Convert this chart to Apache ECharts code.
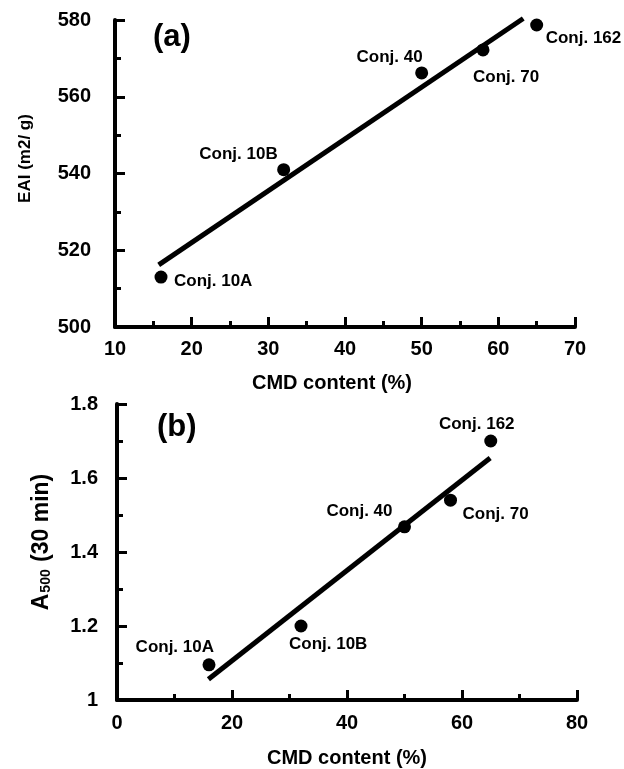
<!DOCTYPE html>
<html>
<head>
<meta charset="utf-8">
<script src="https://cdn.jsdelivr.net/npm/echarts@6/dist/echarts.min.js"></script>
<style>
  html, body { margin: 0; padding: 0; background: #fff; }
  #chart { width: 624px; height: 769px; }
</style>
</head>
<body>
<div id="chart"></div>
<script>
// points shared by both panels
var names = ['Conj. 10A', 'Conj. 10B', 'Conj. 40', 'Conj. 70', 'Conj. 162'];
var cmd = [16, 32, 50, 58, 65];

// panel (a)
var eai = [513, 541, 566.2, 572.2, 578.7];
var eaiFit = [[15.7, 516.2], [63.25, 580.4]];

// panel (b)
var a500 = [1.095, 1.2, 1.468, 1.54, 1.70];
var a500Fit = [[15.9, 1.056], [64.9, 1.654]];

var FONT = 'Liberation Sans, Arial, Helvetica, sans-serif';

// label placement around each dot (styling only)
var labA = [
    {align: 'left', offset: [13, 4]},
    {align: 'right', offset: [-6, -15]},
    {align: 'right', offset: [1, -16]},
    {align: 'left', offset: [-10, 27]},
    {align: 'left', offset: [9, 13]}
];
var labB = [
    {align: 'right', offset: [5, -18]},
    {align: 'left', offset: [-12, 18]},
    {align: 'right', offset: [-12, -16]},
    {align: 'left', offset: [12, 14]},
    {align: 'center', offset: [-14, -17]}
];

function points(ys, labs) {
    return names.map(function (n, i) {
        return {
            name: n,
            value: [cmd[i], ys[i]],
            label: {align: labs[i].align, offset: labs[i].offset}
        };
    });
}

function axisCommon() {
    return {
        type: 'value',
        axisLine: {show: true, lineStyle: {color: '#000', width: 4}},
        axisTick: {show: true, inside: true, length: 10, lineStyle: {color: '#000', width: 3}},
        minorTick: {show: true, splitNumber: 2, length: 6, lineStyle: {color: '#000', width: 3}},
        splitLine: {show: false},
        axisLabel: {color: '#000', fontSize: 20, fontWeight: 'bold', fontFamily: FONT},
        nameLocation: 'middle',
        nameTextStyle: {color: '#000', fontWeight: 'bold', fontFamily: FONT}
    };
}

var xa = axisCommon();
Object.assign(xa, {gridIndex: 0, min: 10, max: 70, interval: 10, name: 'CMD content (%)', nameGap: 46});
xa.axisLabel = Object.assign({}, xa.axisLabel, {margin: 12});
xa.nameTextStyle = Object.assign({}, xa.nameTextStyle, {fontSize: 20, padding: [0, 26, 0, 0]});

var ya = axisCommon();
Object.assign(ya, {gridIndex: 0, min: 500, max: 580, interval: 20, name: 'EAI (m2/ g)', nameGap: 81});
ya.axisLabel = Object.assign({}, ya.axisLabel, {margin: 24});
ya.nameTextStyle = Object.assign({}, ya.nameTextStyle, {fontSize: 17, padding: [0, 0, 0, 30]});

var xb = axisCommon();
Object.assign(xb, {gridIndex: 1, min: 0, max: 80, interval: 20, name: 'CMD content (%)', nameGap: 48});
xb.axisLabel = Object.assign({}, xb.axisLabel, {margin: 13});
xb.nameTextStyle = Object.assign({}, xb.nameTextStyle, {fontSize: 20});

var yb = axisCommon();
Object.assign(yb, {gridIndex: 1, min: 1, max: 1.8, interval: 0.2, name: '{a|A}{s|500}{a| (30 min)}', nameGap: 64});
yb.axisLabel = Object.assign({}, yb.axisLabel, {margin: 19});
yb.nameTextStyle = Object.assign({}, yb.nameTextStyle, {
    padding: [0, 0, 0, 20],
    rich: {
        a: {fontSize: 23, lineHeight: 24, verticalAlign: 'bottom', fontWeight: 'bold', fontFamily: FONT, color: '#000'},
        s: {fontSize: 14, lineHeight: 12, verticalAlign: 'bottom', fontWeight: 'bold', fontFamily: FONT, color: '#000', padding: [0, 1, 0, 1]}
    }
});

var pointLabel = {
    show: true, position: 'inside', verticalAlign: 'middle',
    formatter: '{b}', color: '#000', fontSize: 17, fontWeight: 'bold', fontFamily: FONT
};

var option = {
    backgroundColor: '#fff',
    animation: false,
    grid: [
        {left: 115, top: 20, width: 460, height: 307},
        {left: 117, top: 404, width: 460, height: 308}
    ],
    xAxis: [xa, xb],
    yAxis: [ya, yb],
    graphic: [
        {type: 'text', left: 153, top: 22, style: {text: '(a)', font: 'bold 31px ' + FONT, fill: '#000'}},
        {type: 'text', left: 157, top: 412, style: {text: '(b)', font: 'bold 31px ' + FONT, fill: '#000'}}
    ],
    series: [
        {
            type: 'line', xAxisIndex: 0, yAxisIndex: 0, data: eaiFit, symbol: 'none', clip: false,
            lineStyle: {color: '#000', width: 5, cap: 'butt'}
        },
        {
            type: 'scatter', xAxisIndex: 0, yAxisIndex: 0, data: points(eai, labA),
            symbolSize: 13, itemStyle: {color: '#000', opacity: 1}, label: pointLabel
        },
        {
            type: 'line', xAxisIndex: 1, yAxisIndex: 1, data: a500Fit, symbol: 'none', clip: false,
            lineStyle: {color: '#000', width: 5, cap: 'butt'}
        },
        {
            type: 'scatter', xAxisIndex: 1, yAxisIndex: 1, data: points(a500, labB),
            symbolSize: 13, itemStyle: {color: '#000', opacity: 1}, label: pointLabel
        }
    ]
};

var myChart = echarts.init(document.getElementById('chart'));
myChart.setOption(option);
</script>
</body>
</html>
